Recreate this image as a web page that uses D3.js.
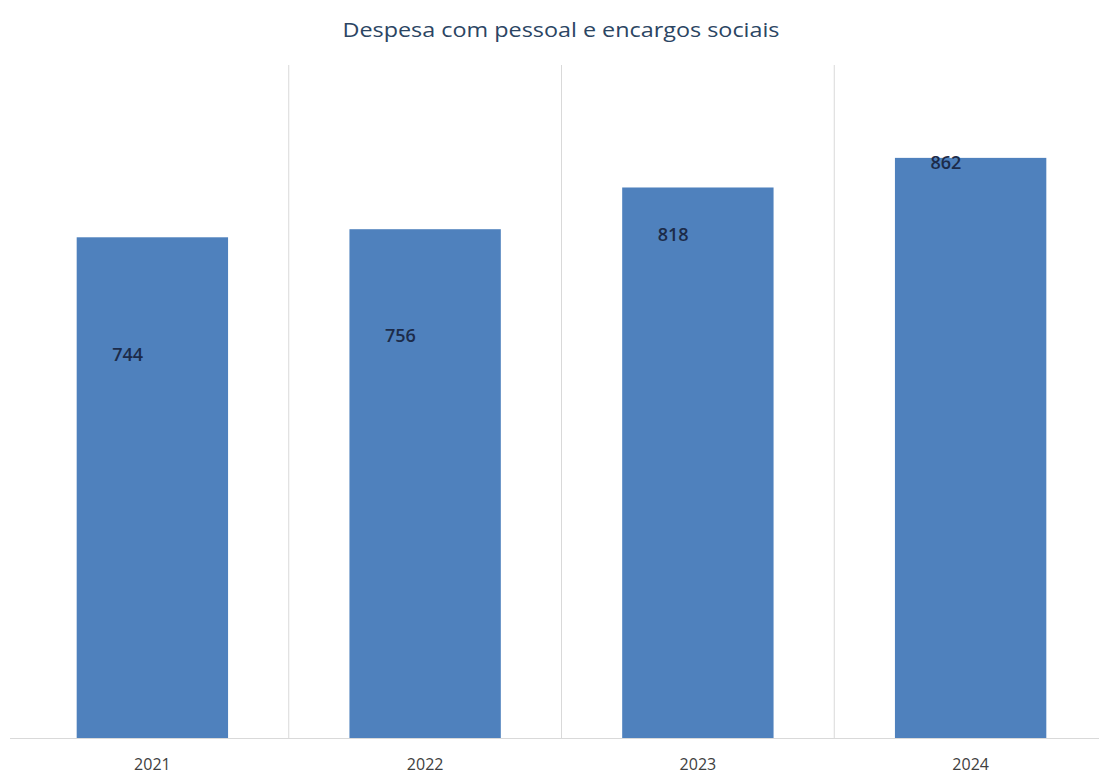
<!DOCTYPE html>
<html><head><meta charset="utf-8">
<script src="https://cdn.jsdelivr.net/npm/d3@7"></script>
<style>
html,body{margin:0;padding:0;background:#fff;}
svg{display:block;}
</style></head>
<body>
<svg id="chart" width="1099" height="776"></svg>
<script>
const titleText = "Despesa com pessoal e encargos sociais";
const categories = ["2021", "2022", "2023", "2024"];
const values = [744, 756, 818, 862];
const yDomain = [0, 1000];

const svg = d3.select("#chart");
const W = 1099, H = 776;
const m = {top: 65, bottom: 38, left: 16, right: -8};
const x = d3.scaleBand().domain(categories).range([m.left, W - m.right]).paddingInner(0.445).paddingOuter(0.2225);
const y = d3.scaleLinear().domain(yDomain).range([H - m.bottom, m.top]);
// label placement (Excel-style manual positions), mapped from value
const labelY = d3.scaleLinear().domain([744, 862]).range([355, 163]);

// title
svg.append("text")
  .attr("x", 561).attr("y", 37)
  .attr("text-anchor", "middle")
  .attr("font-family", "Open Sans, sans-serif")
  .attr("font-size", 20)
  .attr("textLength", 437)
  .attr("lengthAdjust", "spacingAndGlyphs")
  .attr("fill", "#2B4563")
  .text(titleText);

// category separators
const step = x.step();
svg.append("g").selectAll("line")
  .data(categories.slice(1))
  .join("line")
  .attr("x1", d => x(d) - (step - x.bandwidth()) / 2)
  .attr("x2", d => x(d) - (step - x.bandwidth()) / 2)
  .attr("y1", y(yDomain[1]))
  .attr("y2", y(0))
  .attr("stroke", "#D9D9D9")
  .attr("stroke-width", 1);

// bars
svg.append("g").selectAll("rect")
  .data(values)
  .join("rect")
  .attr("x", (d, i) => x(categories[i]))
  .attr("width", x.bandwidth())
  .attr("y", d => y(d))
  .attr("height", d => y(0) - y(d))
  .attr("fill", "#4F81BD");

// baseline axis
const axis = d3.axisBottom(x).tickSize(0).tickPadding(20);
const ag = svg.append("g").attr("transform", `translate(0,${y(0) + 0.5})`).call(axis);
ag.select(".domain").attr("stroke", "#D9D9D9").attr("d", `M10,0H${W}`);
ag.selectAll("text")
  .attr("font-family", "Open Sans, sans-serif")
  .attr("font-size", 16)
  .attr("fill", "#404040");

// value labels
svg.append("g").selectAll("text")
  .data(values)
  .join("text")
  .attr("x", (d, i) => x(categories[i]) + 51)
  .attr("y", d => labelY(d))
  .attr("dy", "0.35em")
  .attr("text-anchor", "middle")
  .attr("font-family", "Open Sans, sans-serif")
  .attr("font-size", 18)
  .attr("font-weight", "600")
  .attr("fill", "#1C2B49")
  .text(d => d);
</script>
</body></html>
